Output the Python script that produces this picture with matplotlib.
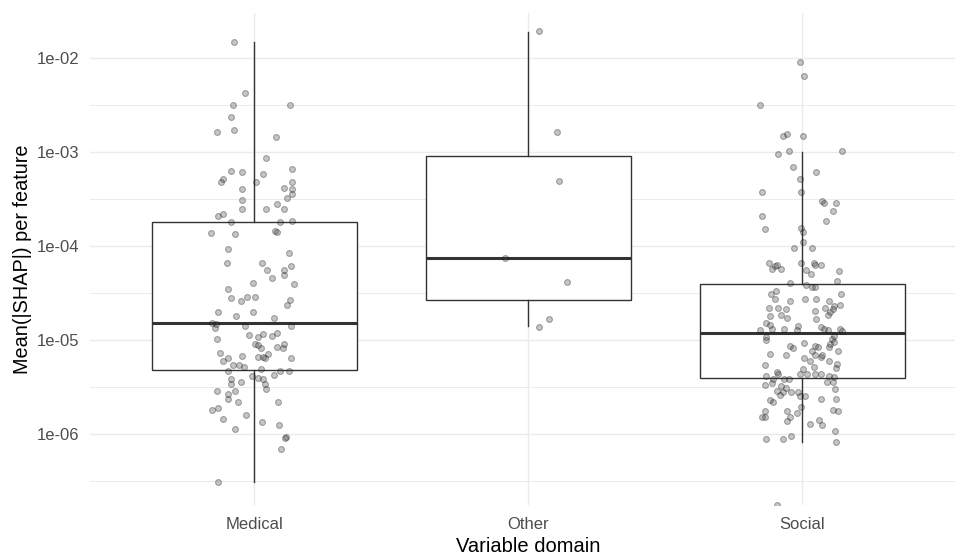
import numpy as np
import matplotlib
matplotlib.use("Agg")
import matplotlib.pyplot as plt
from matplotlib.ticker import FixedLocator, NullFormatter, NullLocator

plt.rcParams['font.family'] = ['Liberation Sans', 'DejaVu Sans']

categories = ["Medical", "Other", "Social"]

medical_values = [
    1.48e-2, 4.3e-3, 3.2e-3, 3.2e-3, 2.4e-3, 1.66e-3, 1.73e-3, 1.45e-3,
    8.7e-4, 6.4e-4, 6.2e-4, 6.6e-4, 5.9e-4, 5.2e-4, 4.8e-4, 4.8e-4, 4.8e-4,
    4.1e-4, 4.2e-4, 4.1e-4, 3.6e-4, 3.3e-4, 3.1e-4, 2.8e-4, 2.5e-4, 2.5e-4, 2.5e-4,
    2.1e-4, 2.2e-4, 1.8e-4, 1.8e-4, 1.86e-4, 1.4e-4, 1.36e-4, 1.45e-4, 1.41e-4,
    9.4e-5, 8.5e-5, 6.6e-5, 6.6e-5, 5.6e-5, 5.6e-5, 6.2e-5, 4.9e-5, 4.6e-5, 4.1e-5, 4.0e-5,
    3.5e-5, 2.8e-5, 2.6e-5, 2.9e-5, 2.9e-5, 2.7e-5, 2.4e-5,
    2.0e-5, 1.8e-5, 2.0e-5, 1.74e-5, 1.52e-5, 1.49e-5, 1.36e-5, 1.42e-5, 1.42e-5,
    1.04e-5, 1.13e-5, 1.08e-5, 1.16e-5, 1.12e-5, 1.20e-5,
    9.1e-6, 9.0e-6, 8.3e-6, 8.5e-6, 8.3e-6, 9.1e-6, 7.4e-6, 6.5e-6, 6.8e-6, 6.7e-6, 6.7e-6, 6.5e-6, 7.1e-6, 6.5e-6,
    6.0e-6, 5.5e-6, 5.5e-6, 5.2e-6, 4.7e-6, 4.9e-6, 4.75e-6, 4.7e-6, 4.3e-6, 4.2e-6, 4.0e-6, 3.9e-6, 3.9e-6,
    3.4e-6, 3.6e-6, 3.4e-6, 3.0e-6, 2.9e-6, 2.7e-6, 2.9e-6, 2.4e-6, 2.2e-6, 2.2e-6, 1.9e-6, 1.8e-6, 1.6e-6, 1.44e-6, 1.34e-6, 1.26e-6, 1.14e-6,
    9.4e-7, 9.1e-7, 7.0e-7, 3.1e-7,
]
medical_jitter = [
    -0.074, -0.034, -0.079, 0.131, -0.085, -0.137, -0.074, 0.078,
    0.043, -0.085, -0.044, 0.139, 0.032, -0.116, -0.122, 0.007, 0.136,
    -0.044, 0.110, 0.136, 0.136, 0.121, -0.044, 0.084, -0.044, 0.043, 0.110,
    -0.132, -0.115, -0.085, 0.094, 0.139, -0.158, -0.071, 0.077, 0.082,
    -0.096, 0.125, -0.101, 0.027, 0.048, 0.110, 0.134, 0.109, 0.063, -0.004, 0.145,
    -0.096, -0.085, -0.050, -0.025, 0.001, 0.131, 0.120,
    -0.132, -0.066, -0.004, 0.073, -0.153, -0.139, -0.142, -0.034, 0.134,
    -0.138, -0.019, 0.012, 0.032, 0.063, 0.084,
    0.003, 0.012, 0.023, 0.083, 0.104, 0.110, -0.126, -0.096, -0.044, 0.012, 0.032, 0.039, 0.049, 0.134,
    -0.115, -0.079, -0.055, -0.039, -0.096, 0.023, 0.095, 0.126, 0.072, -0.008, 0.012, 0.032, -0.085,
    -0.085, -0.049, 0.039, 0.043, -0.137, -0.096, -0.070, -0.096, -0.060, 0.088, -0.132, -0.153, -0.029, -0.116, 0.027, 0.089, -0.070,
    0.117, 0.112, 0.099, -0.132,
]

other_values = [1.94e-2, 1.64e-3, 4.98e-4, 7.5e-5, 4.2e-5, 1.67e-5, 1.37e-5]
other_jitter = [0.039, 0.105, 0.111, -0.084, 0.142, 0.074, 0.039]

social_values = [
    9.2e-3, 6.5e-3, 3.18e-3, 1.49e-3, 1.55e-3, 1.49e-3, 9.6e-4, 1.03e-3, 1.03e-3, 6.9e-4,
    6.2e-4, 5.2e-4, 3.8e-4, 3.8e-4, 3.0e-4, 2.9e-4, 2.9e-4, 2.4e-4, 2.1e-4, 1.86e-4,
    1.52e-4, 1.57e-4, 1.41e-4, 1.11e-4, 9.7e-5, 9.7e-5, 6.7e-5, 5.8e-5, 6.1e-5, 6.3e-5,
    5.8e-5, 6.7e-5, 5.6e-5, 5.1e-5, 6.7e-5, 6.3e-5, 6.3e-5, 5.5e-5, 4.3e-5, 4.1e-5,
    3.85e-5, 3.7e-5, 3.7e-5, 3.1e-5, 3.35e-5, 3.1e-5, 2.73e-5, 2.64e-5, 2.73e-5, 2.73e-5,
    2.64e-5, 2.39e-5, 2.3e-5, 2.17e-5, 2.2e-5, 2.2e-5, 2.14e-5, 2.2e-5, 1.87e-5, 1.8e-5,
    1.74e-5, 2.06e-5, 2.0e-5, 1.87e-5, 1.69e-5, 1.52e-5, 1.44e-5, 1.29e-5, 1.33e-5, 1.33e-5,
    1.42e-5, 1.29e-5, 1.38e-5, 1.33e-5, 1.29e-5, 1.33e-5, 1.25e-5, 1.08e-5, 1.04e-5, 1.11e-5,
    1.0e-5, 8.8e-6, 8.2e-6, 9.4e-6, 8.8e-6, 8.55e-6, 8.55e-6, 9.1e-6, 9.7e-6, 7.7e-6,
    7.15e-6, 6.9e-6, 7.7e-6, 6.9e-6, 6.7e-6, 6.9e-6, 6.5e-6, 6.0e-6, 6.0e-6, 5.64e-6,
    5.46e-6, 5.07e-6, 5.24e-6, 4.91e-6, 4.4e-6, 4.57e-6, 4.4e-6, 4.4e-6, 4.4e-6, 4.2e-6,
    4.07e-6, 4.14e-6, 3.85e-6, 3.85e-6, 3.85e-6, 4.4e-6, 3.6e-6, 3.6e-6, 3.37e-6, 3.49e-6,
    3.26e-6, 3.13e-6, 2.89e-6, 2.8e-6, 2.84e-6, 2.84e-6, 3.0e-6, 2.6e-6, 2.57e-6, 2.57e-6,
    2.37e-6, 2.37e-6, 2.3e-6, 2.22e-6, 1.94e-6, 1.78e-6, 1.78e-6, 1.7e-6, 1.81e-6, 1.76e-6,
    1.52e-6, 1.52e-6, 1.53e-6, 1.38e-6, 1.3e-6, 1.43e-6, 1.25e-6, 1.09e-6, 8.9e-7, 8.9e-7,
    9.5e-7, 8.3e-7, 1.78e-7,
]
social_jitter = [
    -0.008, 0.006, -0.153, -0.070, -0.055, 0.001, -0.087, -0.050, 0.144, -0.034,
    0.051, -0.010, -0.147, -0.004, 0.072, 0.078, 0.123, 0.112, -0.147, 0.088,
    -0.137, -0.004, 0.001, 0.001, -0.029, 0.037, -0.122, -0.112, -0.101, -0.092,
    -0.076, -0.004, 0.012, 0.032, 0.041, 0.047, 0.067, 0.134, 0.127, -0.045,
    0.012, 0.037, 0.047, -0.114, -0.096, 0.140, -0.101, -0.045, 0.011, 0.051,
    0.098, 0.137, 0.117, 0.112, -0.122, -0.087, -0.060, 0.083, -0.076, -0.117,
    -0.055, 0.047, 0.103, 0.093, 0.051, -0.132, -0.117, -0.153, -0.112, -0.066,
    -0.015, -0.021, 0.067, 0.078, 0.093, 0.138, 0.144, -0.132, 0.107, 0.117,
    -0.132, -0.045, -0.034, 0.006, 0.047, 0.058, 0.096, 0.103, 0.117, 0.129,
    -0.117, -0.060, 0.037, 0.047, 0.067, 0.072, 0.006, 0.030, 0.098, 0.125,
    -0.137, 0.123, 0.041, 0.001, 0.016, -0.092, -0.087, 0.047, 0.067, 0.098,
    0.117, -0.132, -0.106, -0.066, -0.050, -0.010, 0.089, 0.112, -0.137, -0.112,
    -0.079, -0.060, -0.092, -0.071, -0.040, -0.014, 0.120, -0.081, -0.010, 0.011,
    0.068, 0.123, -0.117, -0.106, -0.005, -0.137, -0.055, -0.021, 0.112, 0.129,
    -0.045, -0.137, -0.147, -0.055, 0.027, 0.062, 0.072, 0.118, -0.132, -0.071,
    -0.040, 0.123, -0.092,
]

# Box summary
box_q1 = [4.83e-6, 2.68e-5, 3.95e-6]
box_median = [1.54e-5, 7.5e-5, 1.21e-5]
box_q3 = [1.83e-4, 9.06e-4, 4.0e-5]
box_whisker_low = [3.08e-7, 1.42e-5, 8.3e-7]
box_whisker_high = [1.48e-2, 1.92e-2, 1.01e-3]

y_ticks = [1e-6, 1e-5, 1e-4, 1e-3, 1e-2]
y_tick_labels = ["1e-06", "1e-05", "1e-04", "1e-03", "1e-02"]
y_minor = [10 ** -6.5, 10 ** -5.5, 10 ** -4.5, 10 ** -3.5, 10 ** -2.5]

x_label = "Variable domain"
y_label = "Mean(|SHAP|) per feature"

fig = plt.figure(figsize=(9.55, 5.57), dpi=100)
ax = fig.add_axes([0.0942, 0.0934, 0.918, 0.8833])
ax.set_yscale('log')
ax.set_xlim(0.4, 3.6)
ax.set_ylim(10 ** -6.752, 10 ** -1.518)

positions = np.arange(1, len(categories) + 1)

ax.set_axisbelow(True)
ax.yaxis.set_major_locator(FixedLocator(y_ticks))
ax.yaxis.set_minor_locator(FixedLocator(y_minor))
ax.yaxis.set_minor_formatter(NullFormatter())
ax.set_yticklabels(y_tick_labels)
ax.set_xticks(positions)
ax.set_xticklabels(categories)
ax.xaxis.set_minor_locator(NullLocator())
ax.grid(which='major', color='#EBEBEB', linewidth=1.0, zorder=0)
ax.grid(which='minor', axis='y', color='#EBEBEB', linewidth=0.7, zorder=0)
for s in ax.spines.values():
    s.set_visible(False)
ax.tick_params(which='both', length=0)
ax.tick_params(axis='y', pad=7.5, labelsize=12, labelcolor='#4D4D4D')
ax.tick_params(axis='x', pad=8.5, labelsize=12, labelcolor='#4D4D4D')

stats = []
for i, c in enumerate(categories):
    stats.append(dict(label=c, med=box_median[i], q1=box_q1[i], q3=box_q3[i],
                      whislo=box_whisker_low[i], whishi=box_whisker_high[i], fliers=[]))
ax.bxp(stats, positions=positions, widths=0.75, showfliers=False, showcaps=False,
       patch_artist=True, manage_ticks=False,
       boxprops=dict(facecolor='white', edgecolor='#333333', linewidth=1.0),
       whiskerprops=dict(color='#333333', linewidth=1.0),
       medianprops=dict(color='#333333', linewidth=2.2, solid_capstyle='butt'),
       zorder=2)

groups = [(medical_values, medical_jitter), (other_values, other_jitter), (social_values, social_jitter)]
for pos, (vals, jit) in zip(positions, groups):
    ax.scatter(pos + np.asarray(jit), vals, s=18, c='#404040', alpha=0.3,
               edgecolors='black', linewidths=0.8, zorder=3)

ax.set_ylabel(y_label, fontsize=14.3, color='black')
ax.yaxis.set_label_coords(-0.066, 0.5)
ax.set_xlabel(x_label, fontsize=14.5, color='black')
ax.xaxis.set_label_coords(0.5, -0.066)

fig.savefig("out.png", dpi=100)
